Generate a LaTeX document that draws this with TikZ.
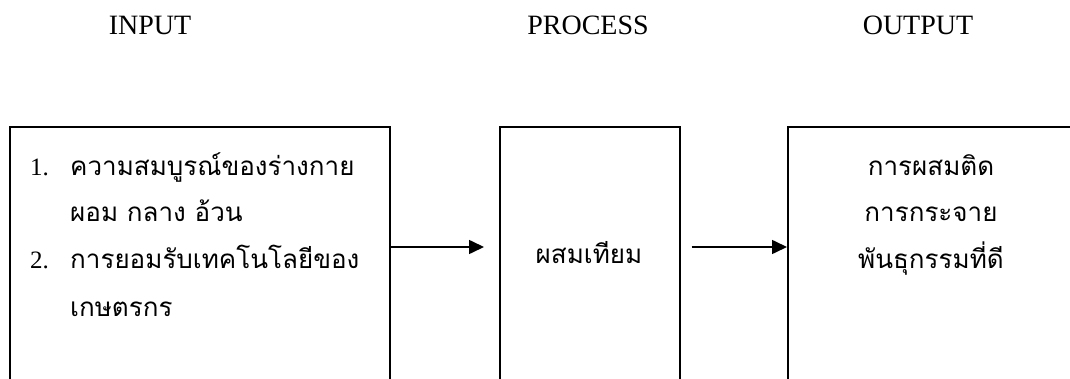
\documentclass[tikz,border=0pt]{standalone}
\usepackage{fontspec}
\setmainfont{Liberation Serif}
\newfontfamily\thaifont[Script=Thai]{Loma}
\usetikzlibrary{arrows.meta}
\usetikzlibrary{positioning}

\begin{document}
\begin{tikzpicture}[x=1pt, y=-1pt]
\tikzstyle{caja}=[
    draw,
    line width=1.6pt,
    inner sep=0pt,
    anchor=north west
]
\tikzstyle{titulo}=[inner sep=0pt, anchor=base, font=\fontsize{28}{30}\selectfont]
\tikzstyle{numero}=[inner sep=0pt, anchor=base west, font=\fontsize{25}{28}\selectfont]
\tikzstyle{linea}=[inner sep=0pt, anchor=base west, font=\thaifont\fontsize{26}{30}\selectfont]
\tikzstyle{centro}=[inner sep=0pt, anchor=base, font=\thaifont\fontsize{26}{30}\selectfont]
\tikzstyle{flecha}=[line width=1.6pt, -{Triangle[length=15pt,width=14pt]}]

\useasboundingbox (0,0) rectangle (1070,379);
\clip (0,0) rectangle (1070,379);

% Titulos
\node[titulo] (input) at (150,35) {INPUT};
\node[titulo] (process) at (588,35) {PROCESS};
\node[titulo] (output) at (918,35) {OUTPUT};

% Cajas
\node[caja, minimum width=380pt, minimum height=320pt] (caja1) at (9,126) {};
\node[caja, minimum width=180pt, minimum height=320pt] (caja2) at (499,126) {};
\node[caja, minimum width=288pt, minimum height=320pt] (caja3) at (787,126) {};

% Texto caja 1
\node[numero] (n1) at (30,176) {1.};
\node[linea] (t1) at (70,176) {ความสมบูรณ์ของร่างกาย};
\node[linea] (t2) at (70,222) {ผอม กลาง อ้วน};
\node[numero] (n2) at (30,269) {2.};
\node[linea] (t3) at (70,269) {การยอมรับเทคโนโลยีของ};
\node[linea] (t4) at (70,316) {เกษตรกร};

% Texto caja 2
\node[centro] (p1) at (589,264) {ผสมเทียม};

% Texto caja 3
\node[centro] (o1) at (931,176) {การผสมติด};
\node[centro] (o2) at (931,222) {การกระจาย};
\node[centro] (o3) at (931,269) {พันธุกรรมที่ดี};

% Flechas
\coordinate (nivel) at (0,247);
\draw[flecha, shorten >=15pt] (caja1.east |- nivel) -- (caja2.west |- nivel);
\draw[flecha, shorten <=11pt] (caja2.east |- nivel) -- (caja3.west |- nivel);

\end{tikzpicture}
\end{document}
